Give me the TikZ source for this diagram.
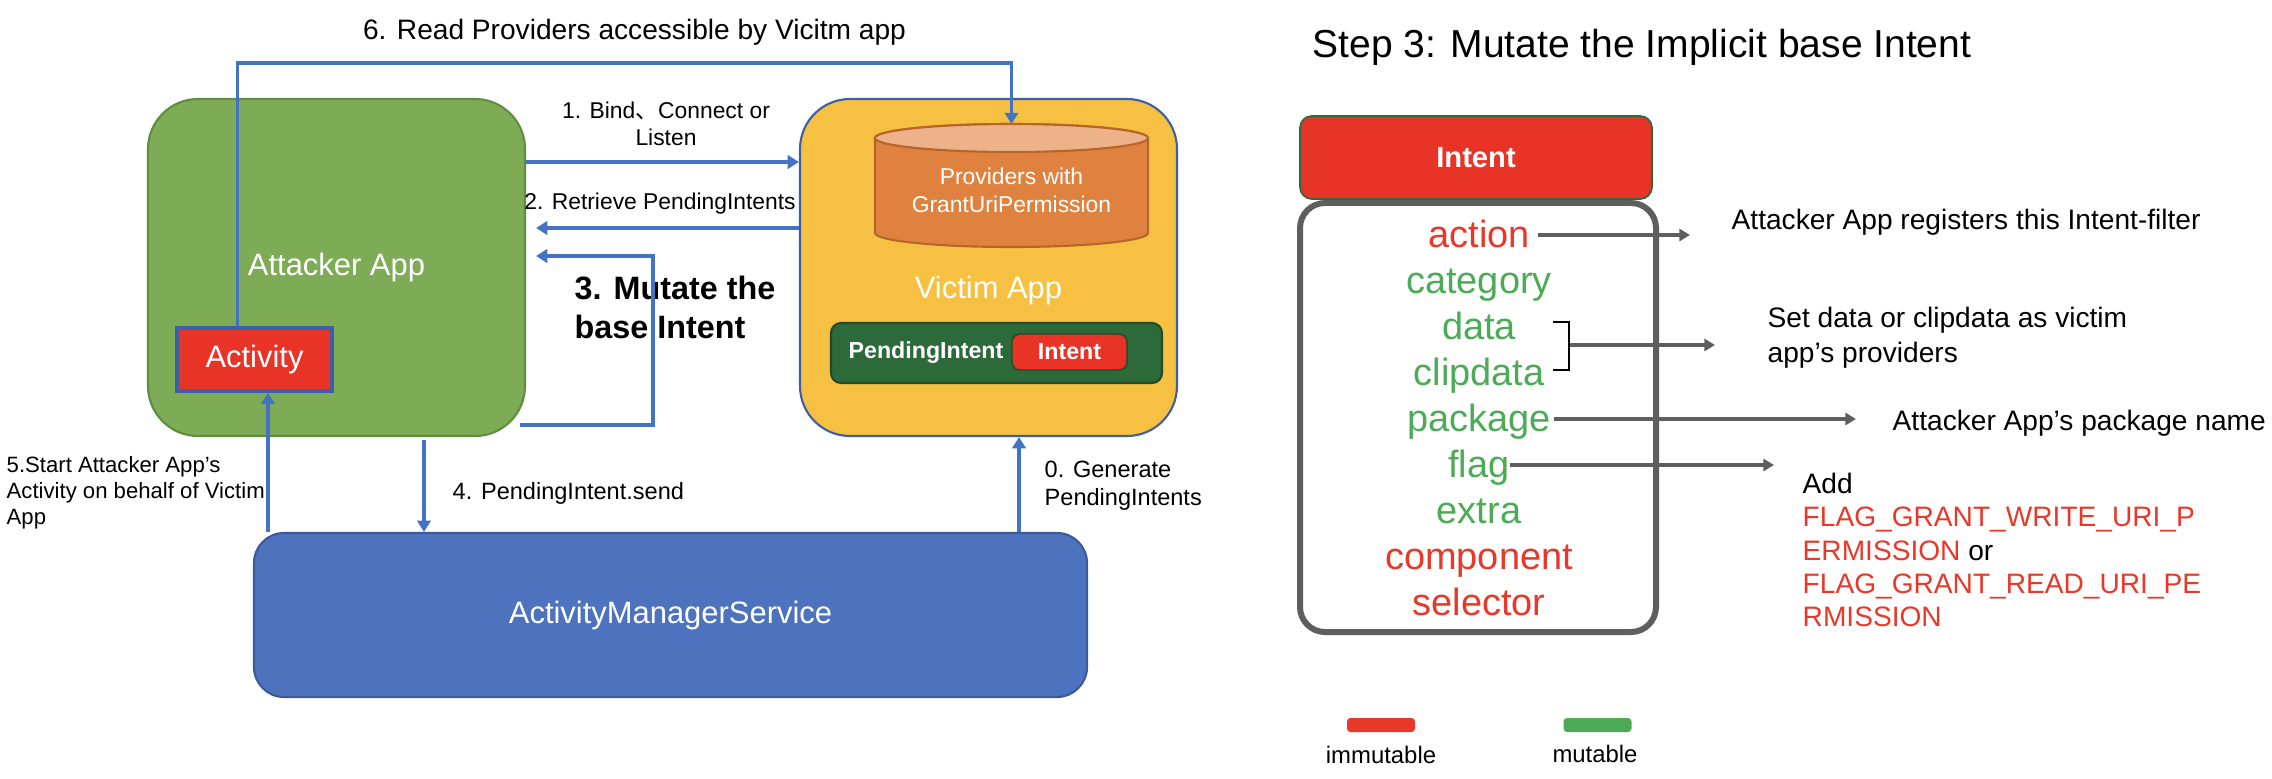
\documentclass[tikz,border=0pt]{standalone}
\usepackage{fontspec}
\setmainfont{Liberation Sans}
\newfontfamily\cjk{Noto Sans CJK SC}
\usetikzlibrary{arrows.meta}

\definecolor{attgreen}{HTML}{7EAB55}
\definecolor{attborder}{HTML}{5E8E3E}
\definecolor{vicyellow}{HTML}{F6C143}
\definecolor{vicborder}{HTML}{3C5FA8}
\definecolor{cylbody}{HTML}{E0823F}
\definecolor{cyltop}{HTML}{EEB28A}
\definecolor{cylborder}{HTML}{B8652A}
\definecolor{pigreen}{HTML}{2D6A3A}
\definecolor{intred}{HTML}{E83426}
\definecolor{amsblue}{HTML}{4E73BE}
\definecolor{amsborder}{HTML}{3A5A9A}
\definecolor{arrowblue}{HTML}{4472C4}
\definecolor{attrgreen}{HTML}{4DAA57}
\definecolor{attrred}{HTML}{E8382A}
\definecolor{boxgray}{HTML}{5E5E5E}

\begin{document}
\begin{tikzpicture}[
    every node/.style={font=\fontsize{6.5}{7.7}\selectfont, align=center, inner sep=0pt},
    appbox/.style={line width=0.6pt, rounded corners=0.5cm, minimum width=3.77cm, minimum height=3.37cm},
    whitetext/.style={text=white, font=\fontsize{8.8}{10}\selectfont},
    bluearrow/.style={draw=arrowblue, line width=1.1pt, -{Triangle[length=3.2pt,width=3.8pt]}},
    grayarrow/.style={draw=boxgray, line width=1pt, -{Triangle[length=3pt,width=3.4pt]}},
    attr/.style={font=\fontsize{10.8}{12}\selectfont, text height=0.75em, text depth=0.05em},
    note/.style={font=\fontsize{8}{9.5}\selectfont, align=left, anchor=west},
  ]
  \path[use as bounding box, fill=white] (0,0) rectangle (22.72,7.78);

  % Attacker App box with its Activity
  \node[appbox, fill=attgreen, draw=attborder, whitetext] (attacker) at (3.365,5.105) {Attacker App};
  \node[fill=intred, draw=vicborder, line width=1pt, minimum width=1.55cm, minimum height=0.63cm, whitetext] (activity) at (2.545,4.185) {Activity};

  % Victim App box
  \node[appbox, fill=vicyellow, draw=vicborder] (victim) at (9.885,5.105) {};
  \node[whitetext] (victimlbl) at (9.885,4.88) {Victim App};
  % Providers cylinder inside Victim App
  \filldraw[fill=cylbody, draw=cylborder, line width=0.6pt] (8.75,6.40) -- (8.75,5.45)
    arc[start angle=180, end angle=360, x radius=1.365cm, y radius=0.14cm] -- (11.48,6.40)
    arc[start angle=0, end angle=180, x radius=1.365cm, y radius=0.14cm] -- cycle;
  \filldraw[fill=cyltop, draw=cylborder, line width=0.6pt] (10.115,6.40) ellipse [x radius=1.365cm, y radius=0.14cm];
  \coordinate (provtop) at (10.115,6.54);
  \node[text=white, font=\fontsize{6.5}{8}\selectfont] (prov) at (10.115,5.88) {Providers with\\GrantUriPermission};
  % PendingIntent box inside Victim App
  \node[fill=pigreen, draw=pigreen!70!black, line width=0.6pt, rounded corners=0.1cm, minimum width=3.31cm, minimum height=0.6cm] (pending) at (9.965,4.25) {};
  \node[text=white, font=\bfseries\fontsize{6.6}{8}\selectfont] (pendingtxt) at (9.26,4.25) {PendingIntent};
  \node[fill=intred, draw=pigreen!70!black, line width=0.4pt, rounded corners=0.08cm, minimum width=1.15cm, minimum height=0.36cm,
        text=white, font=\bfseries\fontsize{6.6}{8}\selectfont] (pendingint) at (10.695,4.26) {Intent};

  % ActivityManagerService box
  \node[fill=amsblue, draw=amsborder, line width=0.6pt, rounded corners=0.3cm, minimum width=8.33cm, minimum height=1.64cm, whitetext] (ams) at (6.705,1.63) {ActivityManagerService};

  % Step labels
  \node[font=\fontsize{8}{9.5}\selectfont] (lbl6) at (6.345,7.46) {6. Read Providers accessible by Vicitm app};
  \node (lbl1) at (6.66,6.545) {1. Bind{\cjk 、}Connect or\\Listen};
  \node (lbl2) at (6.60,5.74) {2. Retrieve PendingIntents};
  \node[anchor=west, align=left, font=\bfseries\fontsize{9.2}{11}\selectfont] (lbl3) at (5.74,4.705) {3. Mutate the\\base Intent};
  \node[anchor=west, font=\fontsize{6.7}{8}\selectfont] (lbl4) at (4.52,2.85) {4. PendingIntent.send};
  \node[anchor=west, align=left, font=\fontsize{6.3}{7.4}\selectfont] (lbl5) at (0.06,2.85) {5.Start Attacker App’s\\Activity on behalf of Victim\\App};
  \node[anchor=west, align=left, font=\fontsize{6.7}{8}\selectfont] (lbl0) at (10.44,2.92) {0. Generate\\PendingIntents};

  % Blue arrows
  \draw[bluearrow] ([xshift=-0.17cm]activity.north) -- ++(0,2.63) -| (provtop);
  \draw[bluearrow] ([yshift=1.055cm]attacker.east) -- ([yshift=1.055cm]victim.west);
  \draw[bluearrow] ([yshift=0.395cm]victim.west) -- ([xshift=0.1cm,yshift=0.395cm]attacker.east);
  \draw[bluearrow] ([xshift=-0.06cm,yshift=-1.575cm]attacker.east) -- ++(1.33,0) |- ([xshift=0.1cm,yshift=0.115cm]attacker.east);
  \draw[bluearrow] ([xshift=0.875cm,yshift=-0.03cm]attacker.south) -- ([xshift=0.875cm]attacker.south |- ams.north);
  \draw[bluearrow] ([xshift=0.135cm]activity.south |- ams.north) -- ([xshift=0.135cm]activity.south);
  \draw[bluearrow] ([xshift=0.305cm]victim.south |- ams.north) -- ([xshift=0.305cm]victim.south);

  % Right side: Intent structure
  \node[anchor=west, font=\fontsize{11.1}{13}\selectfont] (title) at (13.12,7.31) {Step 3: Mutate the Implicit base Intent};
  \node[fill=intred, draw=pigreen, line width=0.5pt, rounded corners=0.12cm, minimum width=3.52cm, minimum height=0.83cm,
        text=white, font=\bfseries\fontsize{8.3}{10}\selectfont] (intenthead) at (14.76,6.205) {Intent};
  \node[draw=boxgray, line width=1.7pt, rounded corners=0.25cm, minimum width=3.56cm, minimum height=4.29cm] (intentbody) at (14.78,3.605) {};
  \foreach \w/\c [count=\i] in {action/attrred, category/attrgreen, data/attrgreen, clipdata/attrgreen,
      package/attrgreen, flag/attrgreen, extra/attrgreen, component/attrred, selector/attrred}
    \node[attr, text=\c] (a\i) at (14.79,{5.89-0.46*\i}) {\w};

  % Notes on the right
  \node[note] (lblact) at (17.31,5.56) {Attacker App registers this Intent-filter};
  \node[note, font=\fontsize{8}{10}\selectfont] (lbldata) at (17.67,4.405) {Set data or clipdata as victim\\app’s providers};
  \node[note] (lblpkg) at (18.92,3.55) {Attacker App’s package name};
  \node[note] (lbladd) at (18.02,2.28) {Add\\\textcolor{attrred}{FLAG\_GRANT\_WRITE\_URI\_P}\\\textcolor{attrred}{ERMISSION} or\\\textcolor{attrred}{FLAG\_GRANT\_READ\_URI\_PE}\\\textcolor{attrred}{RMISSION}};

  % Bracket round data and clipdata
  \coordinate (brmid) at (15.70,4.33);
  \draw[line width=0.8pt] (15.53,4.56) -- (15.69,4.56) -- (15.69,4.08) -- (15.53,4.08);

  % Gray arrows
  \draw[grayarrow, shorten >=0.41cm] ([xshift=0.08cm]a1.east) -- (a1.east -| lblact.west);
  \draw[grayarrow, shorten >=0.52cm] (brmid) -- (brmid -| lbldata.west);
  \draw[grayarrow, shorten >=0.36cm] ([xshift=0.03cm]a5.east) -- (a5.east -| lblpkg.west);
  \draw[grayarrow, shorten >=0.28cm] (a6.east) -- (a6.east -| lbladd.west);

  % Legend
  \node[fill=attrred, rounded corners=1pt, minimum width=0.68cm, minimum height=0.14cm] (legred) at (13.81,0.53) {};
  \node[font=\fontsize{6.8}{8}\selectfont] (legredtxt) at (13.81,0.23) {immutable};
  \node[fill=attrgreen, rounded corners=1pt, minimum width=0.68cm, minimum height=0.14cm] (leggreen) at (15.975,0.53) {};
  \node[font=\fontsize{6.8}{8}\selectfont] (leggreentxt) at (15.95,0.24) {mutable};
\end{tikzpicture}
\end{document}
